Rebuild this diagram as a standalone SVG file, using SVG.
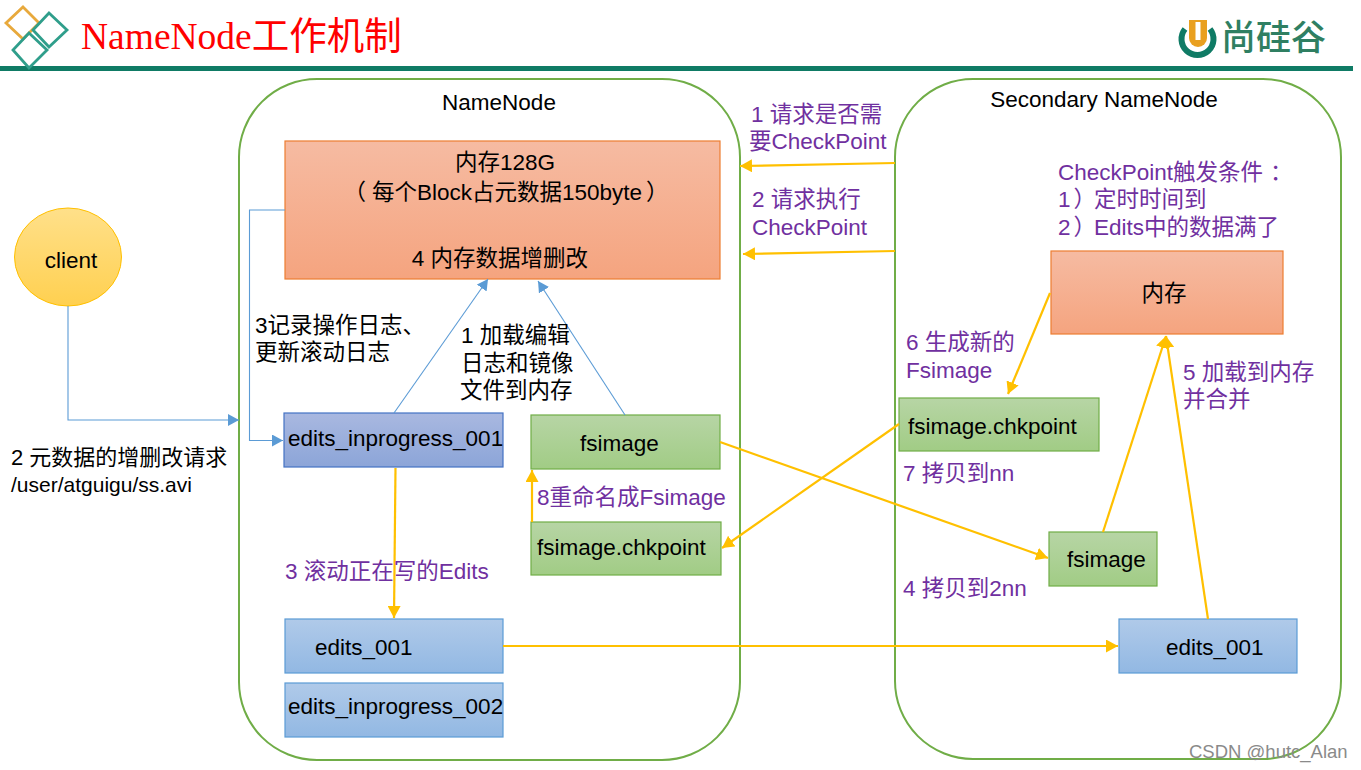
<svg xmlns="http://www.w3.org/2000/svg" width="1361" height="770" viewBox="0 0 1361 770">
<style>
text{font-family:"Liberation Sans","Noto Sans CJK SC",sans-serif;font-size:22.5px;fill:#000}
.p{fill:#7030A0}
.c{text-anchor:middle}
.b{stroke:#FFC000;stroke-width:2.2;fill:none}
.a{stroke:#5B9BD5;stroke-width:1.1;fill:none}
.box{stroke-width:1.2}
.org{fill:url(#go);stroke:#ED7D31}
.grn{fill:url(#gg);stroke:#70AD47}
.blu{fill:url(#gb);stroke:#5B9BD5}
.ind{fill:url(#gi);stroke:#4472C4}
.cont{fill:#fff;stroke:#70AD47;stroke-width:2}
</style>
<defs>
<linearGradient id="go" x1="0" y1="0" x2="0" y2="1"><stop offset="0" stop-color="#F6BBA2"/><stop offset="1" stop-color="#F5A47F"/></linearGradient>
<linearGradient id="gg" x1="0" y1="0" x2="0" y2="1"><stop offset="0" stop-color="#B7D5A5"/><stop offset="1" stop-color="#A1CC85"/></linearGradient>
<linearGradient id="gb" x1="0" y1="0" x2="0" y2="1"><stop offset="0" stop-color="#B0CAE9"/><stop offset="1" stop-color="#92B8E3"/></linearGradient>
<linearGradient id="gi" x1="0" y1="0" x2="0" y2="1"><stop offset="0" stop-color="#A9B8E0"/><stop offset="1" stop-color="#8CA5D8"/></linearGradient>
<linearGradient id="gy" x1="0" y1="0" x2="0" y2="1"><stop offset="0" stop-color="#FFE08A"/><stop offset="1" stop-color="#FFD050"/></linearGradient>
<marker id="mb" markerUnits="userSpaceOnUse" markerWidth="14" markerHeight="13" refX="12" refY="6.500" orient="auto"><path d="M0 0L12 6.500L0 13Z" fill="#FFC000"/></marker>
<marker id="ma" markerUnits="userSpaceOnUse" markerWidth="12" markerHeight="12" refX="11" refY="6" orient="auto"><path d="M0 0L11 6L0 12Z" fill="#5B9BD5"/></marker>
</defs>

<g id="header">
<rect x="0" y="66" width="1353" height="5" fill="#0F7B65"/>
<g fill="none" stroke-width="2.8">
<path d="M23 7L39 23L23 39L6 23Z" stroke="#E8A93C"/>
<path d="M49 13L67 30L49 47L33 30Z" stroke="#2F9E8B"/>
<path d="M29 33L47 50L29 68L13 50Z" stroke="#2F9E8B"/>
</g>
<text x="81" y="49" style="font-family:'Liberation Serif','Noto Sans CJK SC',serif;font-size:37.500px;fill:#FF0000">NameNode工作机制</text>
<path d="M1185 29a16 16 0 1 0 25 0" fill="none" stroke="#0F7B65" stroke-width="6"/>
<path d="M1189 20h18v18a9 9 0 0 1-18 0Z" fill="#E9A020"/>
<path d="M1195.500 22h5v18h-5Z" fill="#fff"/>
<text x="1221" y="50" style="font-size:35px;font-weight:500;fill:#2F7F62">尚硅谷</text>
</g>

<g id="namenode"><rect class="cont" x="239" y="79" width="501" height="681" rx="78" ry="78"/><text class="c" x="499" y="110">NameNode</text></g>
<g id="secondary"><rect class="cont" x="895" y="79" width="446" height="680" rx="78" ry="78"/><text class="c" x="1104" y="107">Secondary NameNode</text></g>

<g id="client"><ellipse cx="68" cy="257" rx="53.500" ry="49" fill="url(#gy)" stroke="#FFC000" stroke-width="1"/><text class="c" x="71" y="268">client</text></g>

<g id="mem"><rect class="box org" x="285" y="141" width="435" height="138"/>
<text class="c" x="505" y="170">内存128G</text>
<text class="c" x="512" y="200"><tspan dx="-6">（</tspan><tspan dx="6">每个Block占元数据150byte</tspan><tspan dx="4">）</tspan></text>
<text class="c" x="500" y="266">4 内存数据增删改</text></g>
<g id="edits_inprogress_001"><rect class="box ind" x="284" y="413" width="219" height="54"/><text x="288" y="446">edits_inprogress_001</text></g>
<g id="fsimage"><rect class="box grn" x="531" y="415" width="189" height="54"/><text x="580" y="451">fsimage</text></g>
<g id="fsimage_chkpoint"><rect class="box grn" x="531" y="522" width="190" height="53"/><text x="537" y="555">fsimage.chkpoint</text></g>
<g id="edits_001"><rect class="box blu" x="285" y="619" width="218" height="54"/><text x="315" y="655">edits_001</text></g>
<g id="edits_inprogress_002"><rect class="box blu" x="285" y="683" width="218" height="54"/><text x="288" y="714">edits_inprogress_002</text></g>
<g id="mem2"><rect class="box org" x="1051" y="251" width="232" height="83"/><text class="c" x="1164" y="301">内存</text></g>
<g id="fsimage_chkpoint2"><rect class="box grn" x="899" y="398" width="200" height="53"/><text x="908" y="434">fsimage.chkpoint</text></g>
<g id="fsimage2"><rect class="box grn" x="1049" y="532" width="108" height="54"/><text x="1067" y="567">fsimage</text></g>
<g id="edits_001b"><rect class="box blu" x="1119" y="619" width="178" height="54"/><text x="1166" y="655">edits_001</text></g>

<g id="connectors">
<path class="a" d="M68 306V420H239" marker-end="url(#ma)"/>
<path class="a" d="M285 210H249.500V440.500H283" marker-end="url(#ma)"/>
<path class="a" d="M394 413L488 279" marker-end="url(#ma)"/>
<path class="a" d="M625 415L538 281" marker-end="url(#ma)"/>
<path class="b" d="M395.500 468L394 618" marker-end="url(#mb)"/>
<path class="b" d="M503 646H1118" marker-end="url(#mb)"/>
<path class="b" d="M720 442L1048 558" marker-end="url(#mb)"/>
<path class="b" d="M532 522V470" marker-end="url(#mb)"/>
<path class="b" d="M899 424L722 548" marker-end="url(#mb)"/>
<path class="b" d="M895 163L740 166" marker-end="url(#mb)"/>
<path class="b" d="M895 251L743 254" marker-end="url(#mb)"/>
<path class="b" d="M1050 293L1008 394" marker-end="url(#mb)"/>
<path class="b" d="M1103 532L1166 336" marker-end="url(#mb)"/>
<path class="b" d="M1208 619L1166 336" marker-end="url(#mb)"/>
</g>

<g id="labels">
<text x="11" y="465" style="font-size:22px">2 元数据的增删改请求</text>
<text x="11" y="492" style="font-size:21px">/user/atguigu/ss.avi</text>
<text x="255" y="333">3记录操作日志、</text>
<text x="255" y="360">更新滚动日志</text>
<text x="461" y="343">1 加载编辑</text>
<text x="461" y="371">日志和镜像</text>
<text x="460" y="398">文件到内存</text>
<text class="p" x="537" y="505">8重命名成Fsimage</text>
<text class="p" x="285" y="579">3 滚动正在写的Edits</text>
<text class="p" x="751" y="122">1 请求是否需</text>
<text class="p" x="749" y="149">要CheckPoint</text>
<text class="p" x="752" y="207">2 请求执行</text>
<text class="p" x="752" y="235">CheckPoint</text>
<text class="p" x="1058" y="180">CheckPoint触发条件<tspan dx="7">：</tspan></text>
<text class="p" x="1058" y="207">1<tspan dx="3">）</tspan><tspan dx="-2">定时时间到</tspan></text>
<text class="p" x="1058" y="235">2<tspan dx="3">）</tspan><tspan dx="-2">Edits中的数据满了</tspan></text>
<text class="p" x="906" y="350">6 生成新的</text>
<text class="p" x="906" y="378">Fsimage</text>
<text class="p" x="1183" y="380">5 加载到内存</text>
<text class="p" x="1183" y="407">并合并</text>
<text class="p" x="903" y="481">7 拷贝到nn</text>
<text class="p" x="903" y="596">4 拷贝到2nn</text>
<text x="1189" y="758" style="font-size:18.500px;fill:#8a8a8a">CSDN @hutc_Alan</text>
</g>
</svg>
